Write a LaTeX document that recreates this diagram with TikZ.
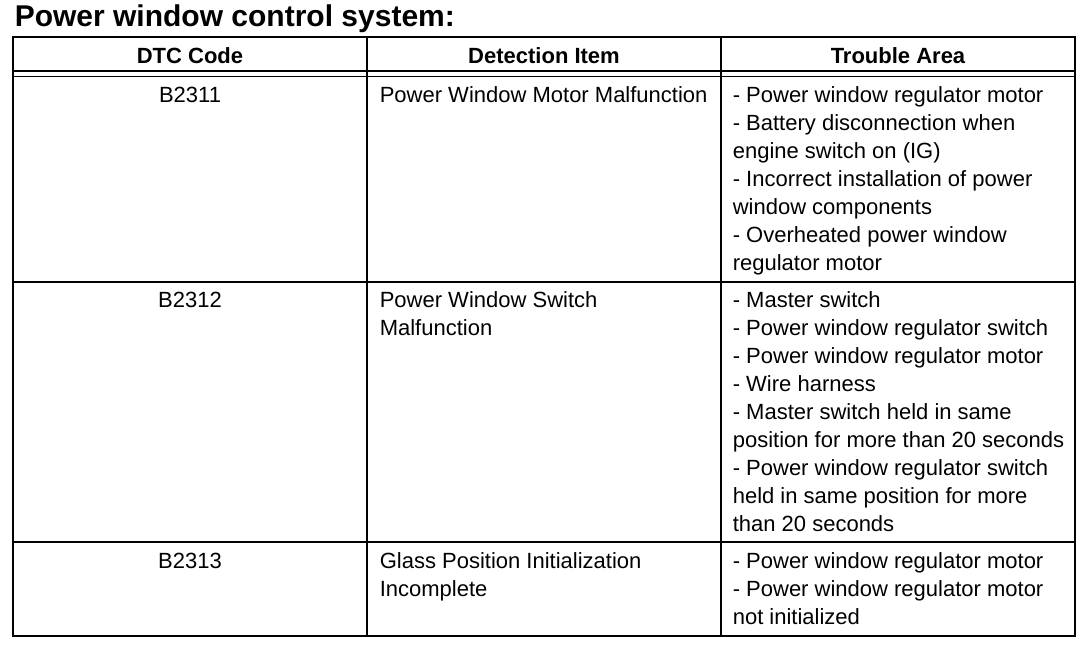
\documentclass[tikz,border=0pt]{standalone}
\usepackage{fontspec}
\setmainfont{Liberation Sans}
\usepackage{tikz}
\usetikzlibrary{positioning}

\newcommand{\cellstrut}{\rule{0pt}{18pt}}

\begin{document}
\begin{tikzpicture}[x=1pt, y=-1pt, line width=1.6pt,
  every node/.style={inner sep=0pt, font=\fontsize{22}{28}\selectfont},
  cell/.style={anchor=north west, align=left},
  code/.style={anchor=base},
  head/.style={anchor=base, font=\fontsize{22}{28}\selectfont\bfseries}]
\useasboundingbox (0,0) rectangle (1088,648);
\node[anchor=base west, font=\fontsize{30}{32}\selectfont\bfseries] (title) at (14,26) {Power window control system:};
% grid
\draw (13,37) rectangle (1075,636);
\draw (367,37) -- (367,636);
\draw (721,37) -- (721,636);
\draw[line width=1.2pt] (13,71) -- (1075,71);
\draw[line width=1.2pt] (13,76.5) -- (1075,76.5);
\draw (13,282) -- (1075,282);
\draw (13,542) -- (1075,542);
% header
\node[head] (hcode) at (190,63) {DTC Code};
\node[head] (hitem) at (544,63) {Detection Item};
\node[head] (harea) at (898,63) {Trouble Area};
% rows
\node[code] (code1) at (190,102) {B2311};
\node[cell] (item1) at (379,84) {\cellstrut Power Window Motor Malfunction};
\node[cell] (area1) at (732,84) {\cellstrut - Power window regulator motor\\- Battery disconnection when\\engine switch on (IG)\\- Incorrect installation of power\\window components\\- Overheated power window\\regulator motor};
\node[code] (code2) at (190,307) {B2312};
\node[cell] (item2) at (379,289) {\cellstrut Power Window Switch\\Malfunction};
\node[cell] (area2) at (732,289) {\cellstrut - Master switch\\- Power window regulator switch\\- Power window regulator motor\\- Wire harness\\- Master switch held in same\\position for more than 20 seconds\\- Power window regulator switch\\held in same position for more\\than 20 seconds};
\node[code] (code3) at (190,568) {B2313};
\node[cell] (item3) at (379,550) {\cellstrut Glass Position Initialization\\Incomplete};
\node[cell] (area3) at (732,550) {\cellstrut - Power window regulator motor\\- Power window regulator motor\\not initialized};
\end{tikzpicture}
\end{document}
